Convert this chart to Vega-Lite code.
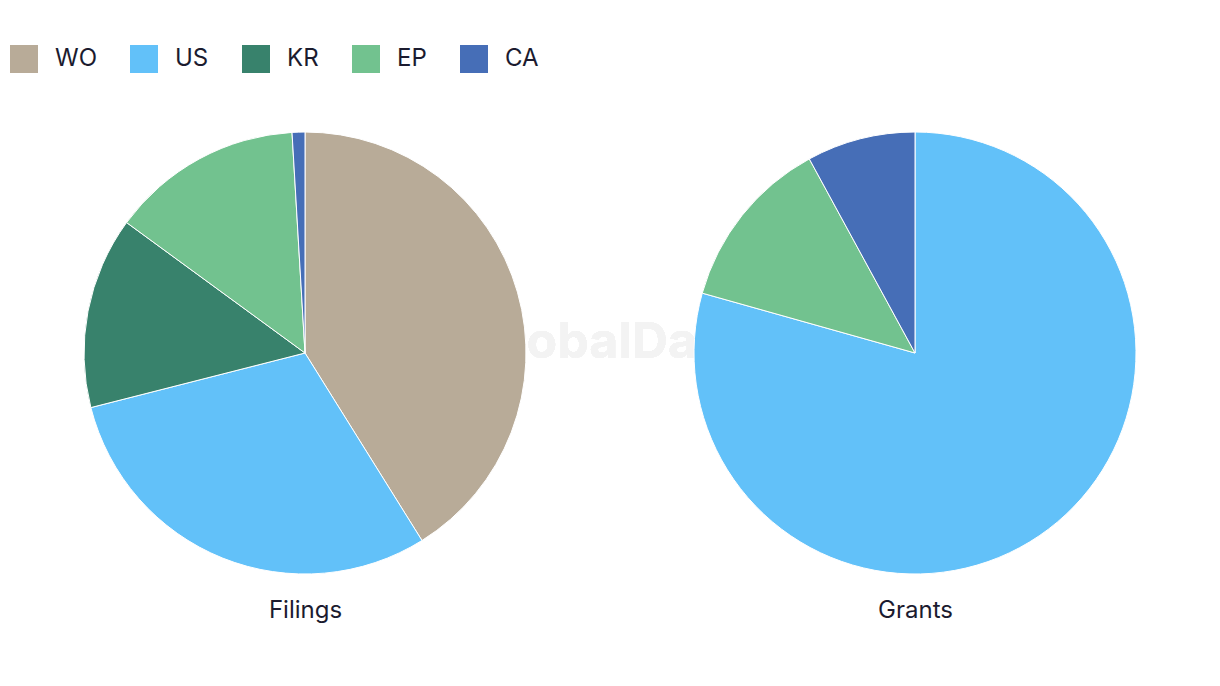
{
  "$schema": "https://vega.github.io/schema/vega-lite/v6.json",
  "width": 1220,
  "height": 442,
  "autosize": {"type": "none"},
  "padding": {"left": 0, "right": 0, "top": 132, "bottom": 112},
  "background": "#ffffff",
  "data": {
    "values": [
      {"panel": "Filings", "code": "WO", "value": 44},
      {"panel": "Filings", "code": "US", "value": 32},
      {"panel": "Filings", "code": "KR", "value": 15},
      {"panel": "Filings", "code": "EP", "value": 15},
      {"panel": "Filings", "code": "CA", "value": 1},
      {"panel": "Grants", "code": "US", "value": 50},
      {"panel": "Grants", "code": "EP", "value": 8},
      {"panel": "Grants", "code": "CA", "value": 5}
    ]
  },
  "layer": [
    {
      "mark": {"type": "text", "text": "GlobalData", "font": "Inter", "fontWeight": "bold", "fontSize": 50, "fill": "#f3f3f3", "dy": -10},
      "encoding": {}
    },
    {
      "transform": [
        {"stack": "value", "groupby": ["panel"], "sort": [{"field": "code", "order": "descending"}], "offset": "normalize", "as": ["v0", "v1"]}
      ],
      "mark": {"type": "arc", "outerRadius": 221, "stroke": "#ffffff", "strokeWidth": 1},
      "encoding": {
        "theta": {"field": "v0", "type": "quantitative", "scale": {"domain": [0, 1]}},
        "theta2": {"field": "v1"},
        "x": {
          "field": "panel",
          "type": "nominal",
          "scale": {"type": "point", "padding": 0.5},
          "title": null,
          "axis": {"orient": "bottom", "domain": false, "ticks": false, "grid": false, "labelAngle": 0, "labelFont": "Inter", "labelFontSize": 24, "labelColor": "#1b1b2f", "labelPadding": 24}
        },
        "color": {
          "field": "code",
          "type": "nominal",
          "scale": {"domain": ["WO", "US", "KR", "EP", "CA"], "range": ["#b8ab98", "#62c1f9", "#38826c", "#72c28f", "#466eb7"]},
          "legend": {
            "title": null,
            "orient": "none",
            "direction": "horizontal",
            "legendX": 10,
            "legendY": -87,
            "symbolType": "square",
            "symbolSize": 784,
            "symbolStrokeWidth": 0,
            "symbolOpacity": 1,
            "labelFont": "Inter",
            "labelFontSize": 24,
            "labelColor": "#1b1b2f",
            "labelOffset": 17,
            "columnPadding": 33,
            "padding": 0
          }
        }
      }
    }
  ],
  "config": {"view": {"stroke": null}}
}
